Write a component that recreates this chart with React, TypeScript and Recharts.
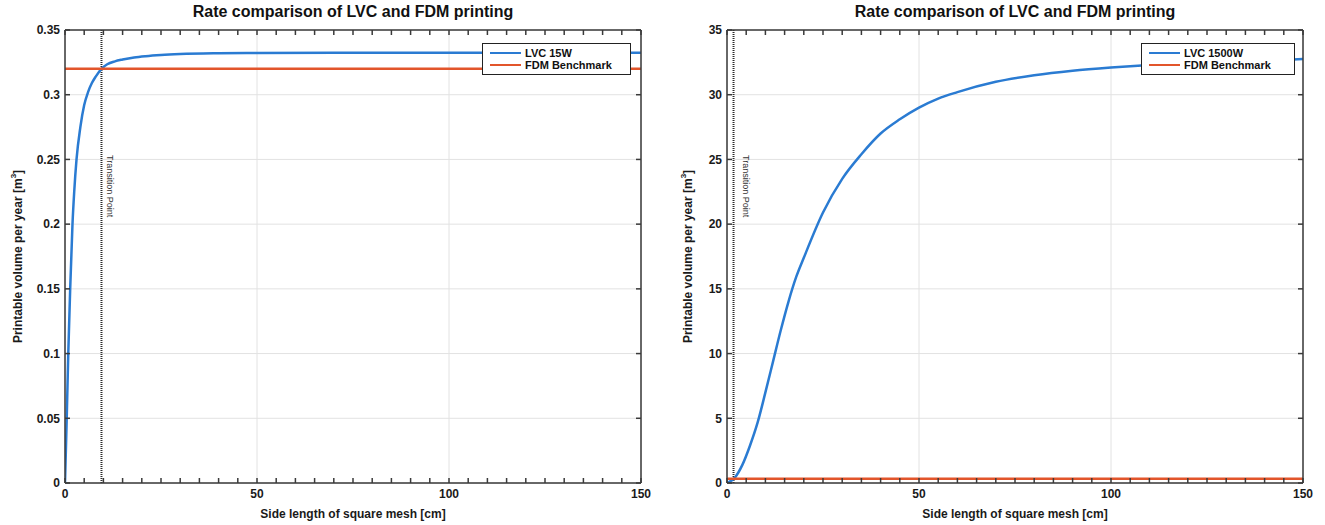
import React from "react";
import { LineChart, Line, XAxis, YAxis, CartesianGrid, ReferenceLine, Legend, Label } from "recharts";

const FONT = '"Liberation Sans", Arial, Helvetica, sans-serif';
const AXIS = "#3a3a3a";
const BLUE = "#2a7bd2";
const RED = "#e2552b";

// LVC 15W (left panel)
const lvc15X = [0, 0.2, 0.45, 0.85, 1.35, 1.95, 2.4, 3, 4, 5, 6, 7, 8, 9.5, 11, 13, 15, 18, 21, 25, 30, 40, 50, 70, 100, 150];
const lvc15Y = [0, 0.022, 0.05, 0.1, 0.15, 0.2, 0.225, 0.25, 0.275, 0.292, 0.302, 0.309, 0.314, 0.32, 0.3235, 0.3258, 0.3272, 0.3288, 0.3298, 0.3307, 0.3314, 0.332, 0.3322, 0.3324, 0.3325, 0.3325];

// LVC 1500W (right panel)
const lvc1500X = [0, 2, 4, 6, 8, 10, 12, 14, 16, 18, 20, 25, 30, 35, 40, 45, 50, 55, 60, 70, 80, 90, 100, 110, 120, 130, 140, 150];
const lvc1500Y = [0, 0.4, 1.4, 2.9, 4.7, 7.0, 9.4, 11.8, 14.0, 15.9, 17.4, 20.9, 23.5, 25.4, 27.0, 28.1, 29.0, 29.7, 30.2, 31.0, 31.5, 31.85, 32.1, 32.3, 32.45, 32.55, 32.65, 32.75];

// FDM benchmark (same in both panels)
const fdmX = [0, 150];
const fdmY = [0.32, 0.32];

const xTicks = [0, 50, 100, 150];
const xMinorTicks = Array.from({ length: 31 }, (_, i) => i * 5);
const yTicks15 = [0, 0.05, 0.1, 0.15, 0.2, 0.25, 0.3, 0.35];
const yTicks1500 = [0, 5, 10, 15, 20, 25, 30, 35];

const transition15 = 9.5;
const transition1500 = 1.7;

const TITLE = "Rate comparison of LVC and FDM printing";
const X_TITLE = "Side length of square mesh [cm]";

interface PanelProps {
  width: number;
  lvcName: string;
  lvcX: number[];
  lvcY: number[];
  yTicks: number[];
  transitionX: number;
  marginLeft: number;
  marginRight: number;
  yLabelX: number;
  legendLeft: number;
  legendWidth: number;
  textDx: number;
}

const tickStyle = { fill: "#1a1a1a", fontSize: 12, fontWeight: 700, fontFamily: FONT };
const noLabel = () => <g />;
const tickLineStyle = { stroke: AXIS, strokeWidth: 1.5 };

const Panel: React.FC<PanelProps> = (p) => {
  const lvcData = p.lvcX.map((x, i) => ({ x, lvc: p.lvcY[i] }));
  const fdmData = fdmX.map((x, i) => ({ x, fdm: fdmY[i] }));
  const yMax = p.yTicks[p.yTicks.length - 1];
  const plotLeft = p.marginLeft + 45;
  const plotRight = p.width - p.marginRight;

  const renderLegend = (props: any) => {
    // LVC entry first, like the original legend
    const items = [...(props.payload || [])].sort((a: any, b: any) => (a.dataKey === "lvc" ? -1 : b.dataKey === "lvc" ? 1 : 0));
    return (
      <div
        style={{
          border: `1.5px solid #222`,
          background: "#fff",
          padding: "3px 4px 3px 7px",
          fontFamily: FONT,
          fontSize: 11,
          fontWeight: 700,
          lineHeight: "12px",
          color: "#111",
        }}
      >
        {items.map((e: any) => (
          <div key={e.value} style={{ display: "flex", alignItems: "center" }}>
            <span style={{ display: "inline-block", width: 31, height: 2.5, background: e.color, marginRight: 4 }} />
            {e.value}
          </div>
        ))}
      </div>
    );
  };

  return (
    <LineChart width={p.width} height={525} margin={{ top: 30, right: p.marginRight, bottom: 2, left: p.marginLeft }}>
      <CartesianGrid stroke="#e2e2e2" strokeWidth={1} />
      <XAxis
        dataKey="x"
        type="number"
        domain={[0, 150]}
        allowDataOverflow
        ticks={xTicks}
        interval={0}
        height={40}
        tickLine={false}
        tickSize={0}
        tickMargin={6}
        axisLine={{ stroke: AXIS, strokeWidth: 1.5 }}
        tick={tickStyle}
      >
        <Label
          content={() => (
            <text x={(plotLeft + plotRight) / 2} y={518} textAnchor="middle" fill="#1a1a1a" fontSize={12} fontWeight={700} fontFamily={FONT}>
              {X_TITLE}
            </text>
          )}
        />
      </XAxis>
      <YAxis
        type="number"
        domain={[0, yMax]}
        allowDataOverflow
        ticks={p.yTicks}
        interval={0}
        width={45}
        tickLine={false}
        tickSize={0}
        tickMargin={5}
        axisLine={{ stroke: AXIS, strokeWidth: 1.5 }}
        tick={tickStyle}
      >
        <Label
          content={() => (
            <text
              x={p.yLabelX}
              y={256.5}
              transform={`rotate(-90, ${p.yLabelX}, 256.5)`}
              textAnchor="middle"
              dominantBaseline="central"
              fill="#1a1a1a"
              fontSize={12}
              fontWeight={700}
              fontFamily={FONT}
            >
              Printable volume per year [m
              <tspan dy={-5} fontSize={8}>3</tspan>
              <tspan dy={5}>]</tspan>
            </text>
          )}
        />
      </YAxis>
      {/* inward tick marks on all four sides, MATLAB box style */}
      <XAxis xAxisId="bm" dataKey="x" type="number" domain={[0, 150]} allowDataOverflow ticks={xMinorTicks} interval={0} orientation="bottom" mirror tick={noLabel} tickSize={5} tickLine={tickLineStyle} axisLine={false} />
      <XAxis xAxisId="tm" dataKey="x" type="number" domain={[0, 150]} allowDataOverflow ticks={xMinorTicks} interval={0} orientation="top" mirror tick={noLabel} tickSize={5} tickLine={tickLineStyle} axisLine={{ stroke: AXIS, strokeWidth: 1.5 }} />
      <YAxis yAxisId="lm" type="number" domain={[0, yMax]} allowDataOverflow ticks={p.yTicks} interval={0} orientation="left" mirror tick={noLabel} tickSize={5} tickLine={tickLineStyle} axisLine={false} />
      <YAxis yAxisId="rm" type="number" domain={[0, yMax]} allowDataOverflow ticks={p.yTicks} interval={0} orientation="right" mirror tick={noLabel} tickSize={5} tickLine={tickLineStyle} axisLine={{ stroke: AXIS, strokeWidth: 1.5 }} />
      <ReferenceLine
        x={p.transitionX}
        stroke="#2a2a2a"
        strokeWidth={2}
        strokeDasharray="1 1"
        label={(lp: any) => {
          const vx = lp?.viewBox?.x ?? 0;
          const tx = vx + p.textDx;
          return (
            <text x={tx} y={155} transform={`rotate(90, ${tx}, 155)`} fill="#333" fontSize={9} fontFamily={FONT}>
              Transition Point
            </text>
          );
        }}
      />
      <Line data={lvcData} dataKey="lvc" name={p.lvcName} type="monotone" stroke={BLUE} strokeWidth={2.5} dot={false} activeDot={false} isAnimationActive={false} />
      <Line data={fdmData} dataKey="fdm" name="FDM Benchmark" type="linear" stroke={RED} strokeWidth={2.5} dot={false} activeDot={false} isAnimationActive={false} />
      <Legend
        layout="vertical"
        align="center"
        verticalAlign="middle"
        content={renderLegend}
        wrapperStyle={{ left: p.legendLeft, top: 43, width: p.legendWidth }}
      />
    </LineChart>
  );
};

const titleStyle = (cx: number): React.CSSProperties => ({
  position: "absolute",
  left: cx - 250,
  width: 500,
  top: 2,
  textAlign: "center",
  fontFamily: FONT,
  fontWeight: 700,
  fontSize: 16,
  color: "#111",
  lineHeight: "20px",
});

export default function App() {
  return (
    <div style={{ position: "absolute", left: 0, top: 0, width: 1325, height: 525, background: "#fff", overflow: "hidden" }}>
      <div style={{ position: "absolute", left: 0, top: 0 }}>
        <Panel
          width={660}
          lvcName="LVC 15W"
          lvcX={lvc15X}
          lvcY={lvc15Y}
          yTicks={yTicks15}
          transitionX={transition15}
          marginLeft={20}
          marginRight={19}
          yLabelX={18}
          legendLeft={482}
          legendWidth={149}
          textDx={6}
        />
      </div>
      <div style={{ position: "absolute", left: 660, top: 0 }}>
        <Panel
          width={665}
          lvcName="LVC 1500W"
          lvcX={lvc1500X}
          lvcY={lvc1500Y}
          yTicks={yTicks1500}
          transitionX={transition1500}
          marginLeft={22}
          marginRight={22}
          yLabelX={28}
          legendLeft={481}
          legendWidth={154}
          textDx={9}
        />
      </div>
      <div style={titleStyle(353)}>{TITLE}</div>
      <div style={titleStyle(1015)}>{TITLE}</div>
    </div>
  );
}
